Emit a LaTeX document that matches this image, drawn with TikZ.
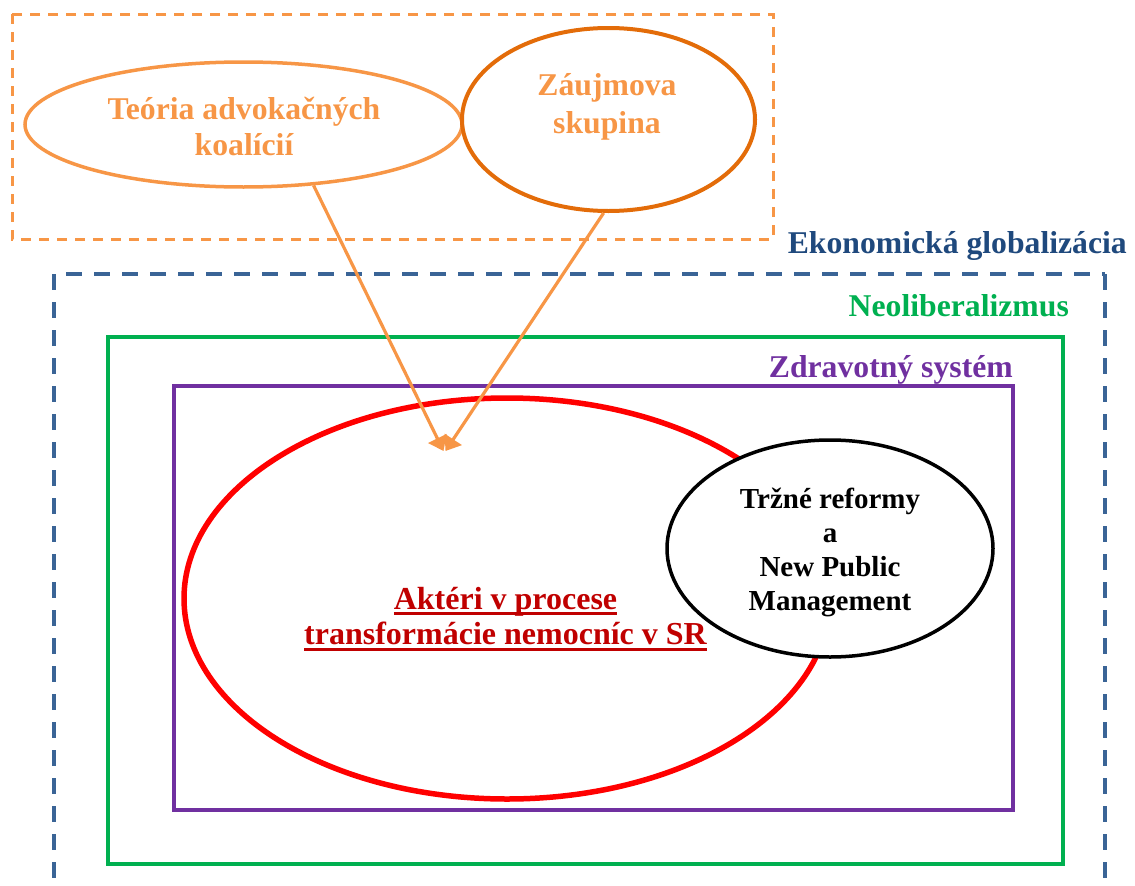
\documentclass[tikz,border=0pt]{standalone}
\usepackage{fontspec}
\setmainfont{Liberation Serif}
\usetikzlibrary{shapes.geometric,arrows.meta}
\definecolor{lorange}{HTML}{F79646}
\definecolor{dorange}{HTML}{E36C09}
\definecolor{navy}{HTML}{1F497D}
\definecolor{dashblue}{HTML}{3A6496}
\definecolor{mgreen}{HTML}{00B050}
\definecolor{mpurple}{HTML}{7030A0}
\definecolor{dred}{HTML}{C00000}
% thick underline set a fixed distance below the baseline
\newsavebox\ulinebox
\newcommand\thickul[1]{\sbox\ulinebox{#1}\rlap{\rule[-6pt]{\wd\ulinebox}{3pt}}\usebox\ulinebox}
\begin{document}
\begin{tikzpicture}[x=1pt,y=-1pt,
  bigtxt/.style={font=\fontsize{31.7}{36}\selectfont\bfseries},
  lbl/.style={bigtxt, inner sep=0pt},
  oval/.style={ellipse, inner sep=0pt, align=center},
  frameline/.style={line width=4pt},
  bluedash/.style={dashblue, line width=4pt, dash pattern=on 16pt off 12pt},
  link/.style={lorange, line width=3.2pt, -{Triangle[length=14pt,width=20pt]}}]
\useasboundingbox (0,0) rectangle (1135,886);

% theories feeding the actors
\draw[lorange, line width=3pt, dash pattern=on 10pt off 8pt] (12,14) rectangle (773,239);
\node[oval, draw=lorange, line width=3.5pt, minimum width=437pt,
      minimum height=125pt] (acf) at (243.5,124.5) {};
\node[lbl, align=center, text=lorange] (acftxt) at (244,126.5)
      {Teória advokačných\\koalícií};
\node[oval, draw=dorange, line width=4pt, minimum width=293pt,
      minimum height=183pt] (grp) at (608.5,119.5) {};
\node[lbl, align=center, text=lorange, font=\fontsize{31.7}{38}\selectfont\bfseries]
      (grptxt) at (607,106.5) {Záujmova\\skupina};

% nested contexts
\draw[bluedash, dash phase=16pt] (54,274) -- (1105,274);
\draw[bluedash] (54,274) -- (54,892);
\draw[bluedash] (1105,274) -- (1105,892);
\draw[frameline, mgreen] (108,337) rectangle (1063,864);
\draw[frameline, mpurple] (174,386) rectangle (1013,810);

\node[lbl, text=navy, anchor=base east] (glob) at (1127,253) {Ekonomická globalizácia};
\node[lbl, text=mgreen, anchor=base east] (neo) at (1069,316) {Neoliberalizmus};
\node[lbl, text=mpurple, anchor=base east] (zdr) at (1013,377) {Zdravotný systém};

% actors and market reforms
\node[oval, draw=red, line width=5.5pt, minimum width=646pt,
      minimum height=401pt] (akt) at (507,598.5) {};
\node[lbl, align=center, text=dred, font=\fontsize{32}{35.5}\selectfont\bfseries]
      (akttxt) at (505.5,619) {\thickul{Aktéri v procese}\\\thickul{transformácie nemocníc v SR}};
\node[oval, draw=black, fill=white, line width=3.5pt, minimum width=326pt,
      minimum height=217pt] (npm) at (830,548.5) {};
\node[lbl, align=center, font=\fontsize{29}{33.7}\selectfont\bfseries]
      (npmtxt) at (830,552.5) {Tržné reformy\\a\\New Public\\Management};

% influence arrows
\coordinate (tipA) at (443.5,451);
\coordinate (tipB) at (445.5,451);
\draw[link] (acf.-41) -- (tipA);
\draw[link] (grp.-93) -- (tipB);
\end{tikzpicture}
\end{document}
